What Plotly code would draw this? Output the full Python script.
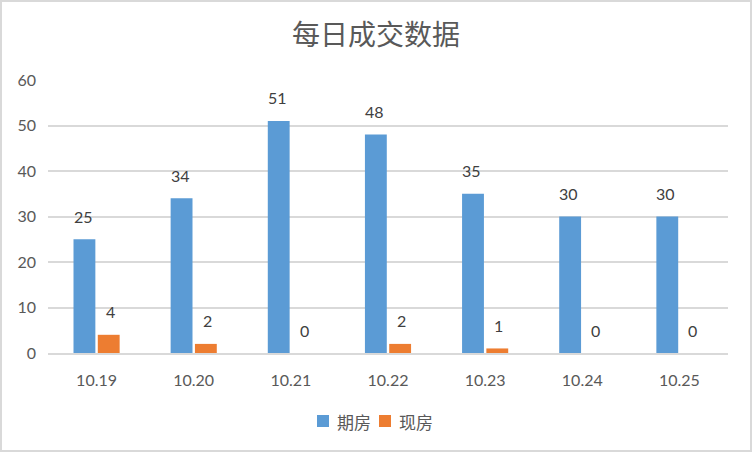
import plotly.graph_objects as go

categories = ["10.19", "10.20", "10.21", "10.22", "10.23", "10.24", "10.25"]
qifang = [25, 34, 51, 48, 35, 30, 30]
xianfang = [4, 2, 0, 2, 1, 0, 0]
series_names = ["期房", "现房"]
title_text = "每日成交数据"

FONT = "Lato, 'Noto Sans CJK SC', sans-serif"
CJK = "'Noto Sans CJK SC', sans-serif"
colors = ["#5B9BD5", "#ED7D31"]

fig = go.Figure()
for name, vals, col in zip(series_names, [qifang, xianfang], colors):
    fig.add_trace(go.Bar(x=categories, y=vals, name=name, marker_color=col, marker_line_width=0))

L, R, T, B = 48, 24, 80, 99
W, H = 752, 452
pw, ph = W - L - R, H - T - B


def px_x(p):
    return (p - L) / pw


def px_y(p):
    return ((H - B) - p) / ph


# data labels placed above each bar (x given as category index)
offsets = [-13.5, 13.5]
for vals, dx in zip([qifang, xianfang], offsets):
    for i, v in enumerate(vals):
        fig.add_annotation(x=i, y=v, text=str(v), showarrow=False, xshift=dx, yshift=23,
                           yanchor="middle", xanchor="center",
                           font=dict(size=16, color="#404040", family=FONT))

# legend drawn by hand (compact, like the reference)
leg_sq_left = [317, 379]
for name, col, sx in zip(series_names, colors, leg_sq_left):
    fig.add_shape(type="rect", xref="paper", yref="paper",
                  x0=px_x(sx), x1=px_x(sx + 12), y0=px_y(427), y1=px_y(415),
                  fillcolor=col, line_width=0)
    fig.add_annotation(xref="paper", yref="paper", x=px_x(sx + 18), y=px_y(421),
                       xanchor="left", yanchor="middle", showarrow=False, text=name,
                       font=dict(size=17, color="#595959", family=CJK))

fig.update_layout(
    width=W, height=H,
    margin=dict(l=L, r=R, t=T, b=B),
    paper_bgcolor="white", plot_bgcolor="white",
    font=dict(family=FONT, color="#595959", size=16),
    title=dict(text=title_text, x=0.5, xanchor="center", y=1 - 35 / H, yanchor="middle",
               font=dict(size=28, color="#595959", family=CJK)),
    barmode="group", bargap=0.5, bargroupgap=0.1,
    showlegend=False,
)
fig.update_xaxes(type="category", range=[-0.5, len(categories) - 0.5], autorange=False,
                 showgrid=False, showline=True, linecolor="#D9D9D9", linewidth=2,
                 ticks="", ticklabelstandoff=12, tickfont=dict(size=16, color="#595959"))
fig.update_yaxes(range=[0, 60], dtick=10, showgrid=True, gridcolor="#D9D9D9", gridwidth=1.5,
                 zeroline=False, showline=False, ticks="", ticklabelstandoff=11,
                 tickfont=dict(size=16, color="#595959"))

# outer border of the chart area
fig.add_shape(type="rect", xref="paper", yref="paper",
              x0=px_x(1), x1=px_x(W - 1), y0=px_y(H - 1), y1=px_y(1),
              line=dict(color="#D9D9D9", width=2), fillcolor="rgba(0,0,0,0)", layer="below")

fig.write_html("out.html", post_script="document.body.style.margin='0';",
               config={"displayModeBar": False})
